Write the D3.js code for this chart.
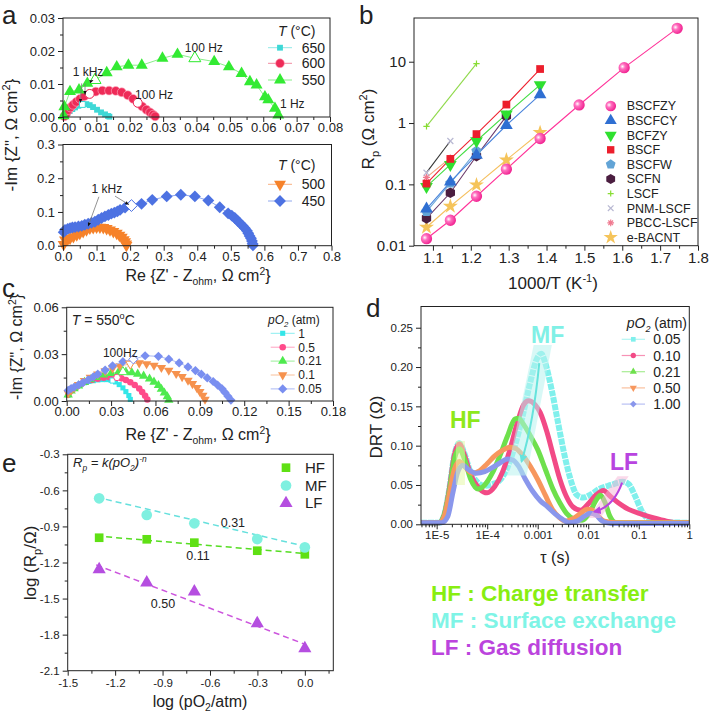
<!DOCTYPE html>
<html><head><meta charset="utf-8">
<script src="https://cdn.jsdelivr.net/npm/d3@7"></script>
<style>
body{margin:0;background:#fff;}
svg{display:block;font-family:"Liberation Sans",Arial,sans-serif;}
</style></head><body>
<svg id="chart" width="709" height="716"></svg>
<script>
// ---------------- DATA ----------------
// Panel a (top): Nyquist, T = 650/600/550 C  [Re, -Im]
const aTop650 = [[0.0004,0.0002],[0.0008,0.0008],[0.0014,0.0013],[0.0020,0.0018],[0.0028,0.0024],[0.0036,0.0029],[0.0046,0.0034],[0.0058,0.0038],[0.0070,0.0039],[0.0080,0.0036],[0.0090,0.0030],[0.0102,0.0022],[0.0114,0.0014],[0.0126,0.0008],[0.0135,0.0003],[0.0139,0.0001]];
const aTop600 = [[0.0004,0.0002],[0.0010,0.0011],[0.0016,0.0021],[0.0022,0.0029],[0.0030,0.0037],[0.0040,0.0046],[0.0051,0.0055],[0.0064,0.0063],[0.0080,0.0070],[0.0098,0.0077],[0.0118,0.0080],[0.0138,0.0080],[0.0158,0.0079],[0.0176,0.0075],[0.0194,0.0066],[0.0210,0.0055],[0.0224,0.0043],[0.0237,0.0032],[0.0250,0.0022],[0.0261,0.0014],[0.0270,0.0007],[0.0276,0.0002]];
const aTop550 = [[0.0002,0.0004],[0.0004,0.0031],[0.0021,0.0077],[0.0048,0.0082],[0.0073,0.0102],[0.0096,0.0112],[0.0131,0.0134],[0.0161,0.0152],[0.0196,0.0157],[0.0236,0.0157],[0.0298,0.0178],[0.0343,0.0190],[0.0395,0.0178],[0.0453,0.0168],[0.0497,0.0152],[0.0535,0.0132],[0.0560,0.0107],[0.0580,0.0097],[0.0605,0.0061],[0.0615,0.0052],[0.0635,0.0026],[0.0645,0.0006]];
const aTopOpen = [["650",0.0058,0.0038],["600",0.0080,0.0070],["600",0.0224,0.0043],["550",0.0096,0.0112],["550",0.0395,0.0178]];
// Panel a (bottom): T = 500/450 C
const aBot500 = [[0.002,0.004],[0.006,0.017],[0.014,0.019],[0.021,0.022],[0.031,0.027],[0.041,0.032],[0.050,0.037],[0.060,0.042],[0.070,0.047],[0.080,0.052],[0.090,0.054],[0.100,0.055],[0.110,0.055],[0.120,0.054],[0.130,0.051],[0.140,0.047],[0.150,0.042],[0.160,0.037],[0.168,0.031],[0.175,0.025],[0.181,0.018],[0.185,0.012],[0.188,0.005],[0.189,0.001]];
const aBot450 = [[0.002,0.040],[0.006,0.047],[0.014,0.050],[0.021,0.052],[0.028,0.054],[0.036,0.055],[0.046,0.057],[0.056,0.059],[0.065,0.062],[0.075,0.065],[0.085,0.068],[0.095,0.071],[0.105,0.077],[0.115,0.082],[0.125,0.087],[0.135,0.091],[0.144,0.095],[0.153,0.098],[0.162,0.102],[0.170,0.106],[0.185,0.113],[0.204,0.119],[0.234,0.124],[0.266,0.136],[0.309,0.146],[0.351,0.151],[0.393,0.146],[0.433,0.134],[0.467,0.114],[0.492,0.096],[0.503,0.089],[0.512,0.082],[0.520,0.074],[0.527,0.067],[0.535,0.059],[0.542,0.052],[0.548,0.044],[0.552,0.037],[0.556,0.029],[0.560,0.022],[0.563,0.014],[0.565,0.006],[0.566,0.001]];
const aBotOpen = [["450",0.204,0.119]];
// Panel b: Rp vs 1000/T
const bLabels = ["BSCFZY","BSCFCY","BCFZY","BSCF","BSCFW","SCFN","LSCF","PNM-LSCF","PBCC-LSCF","e-BACNT"];
const bInvT = [1.083,1.146,1.215,1.294,1.383,1.486,1.605,1.745];
const bBSCFZY = [0.013,0.026,0.064,0.177,0.56,1.97,8.0,35];
const bBSCFCY = [0.040,0.11,0.30,0.92,2.9];
const bBCFZY = [0.092,0.21,0.51,1.4,4.2];
const bBSCF = [0.103,0.26,0.66,2.0,7.6];
const bBSCFW = [0.036,0.105,0.35];
const bSCFN = [0.028,0.073,0.29,1.3];
const bLSCF = [[1.083,0.88],[1.215,9.3]];
const bPNM = [0.155,0.51];
const bPBCC = [0.13,0.27];
const bEBACNT = [0.020,0.044,0.098,0.25,0.70];
// Panel c: Nyquist at 550 C, different pO2
const cP1 = [[0.001,0.004],[0.002,0.006],[0.004,0.0075],[0.006,0.009],[0.009,0.0105],[0.012,0.0117],[0.015,0.0125],[0.018,0.013],[0.021,0.0135],[0.024,0.0137],[0.027,0.0137],[0.030,0.0133],[0.033,0.0122],[0.0355,0.0105],[0.038,0.0084],[0.040,0.006],[0.042,0.0035],[0.043,0.001]];
const cP05 = [[0.001,0.004],[0.002,0.006],[0.004,0.0077],[0.007,0.0095],[0.010,0.011],[0.013,0.0123],[0.017,0.0135],[0.021,0.0143],[0.025,0.0149],[0.029,0.0152],[0.033,0.0151],[0.037,0.0145],[0.040,0.0135],[0.043,0.012],[0.046,0.0102],[0.049,0.008],[0.051,0.0058],[0.053,0.0034],[0.0545,0.001]];
const cP021 = [[0.001,0.004],[0.003,0.0065],[0.005,0.008],[0.008,0.0098],[0.012,0.012],[0.016,0.0137],[0.020,0.0152],[0.025,0.0167],[0.030,0.0178],[0.035,0.0185],[0.040,0.0186],[0.044,0.0182],[0.048,0.0173],[0.052,0.016],[0.056,0.0142],[0.059,0.0122],[0.062,0.01],[0.064,0.0076],[0.066,0.0052],[0.068,0.0028],[0.069,0.0006]];
const cP01 = [[0.001,0.005],[0.003,0.007],[0.005,0.0085],[0.008,0.0105],[0.012,0.013],[0.016,0.015],[0.021,0.0172],[0.026,0.0192],[0.031,0.021],[0.036,0.0224],[0.043,0.0238],[0.049,0.0243],[0.054,0.0238],[0.059,0.0228],[0.064,0.0214],[0.069,0.0196],[0.074,0.0175],[0.078,0.0155],[0.082,0.0132],[0.085,0.011],[0.088,0.0085],[0.090,0.006],[0.092,0.0035],[0.0935,0.001]];
const cP005 = [[0.001,0.0068],[0.003,0.008],[0.005,0.0088],[0.008,0.0103],[0.011,0.0118],[0.0145,0.0135],[0.018,0.0155],[0.021,0.0172],[0.026,0.0198],[0.031,0.0225],[0.038,0.0252],[0.045,0.0267],[0.053,0.029],[0.062,0.0286],[0.069,0.0268],[0.076,0.0244],[0.082,0.0218],[0.087,0.0195],[0.091,0.0172],[0.095,0.0148],[0.099,0.0125],[0.102,0.0102],[0.105,0.0078],[0.107,0.0055],[0.109,0.003],[0.111,0.0006]];
const cOpen = [["1",0.031,0.0131],["0.5",0.034,0.0151],["0.21",0.038,0.0186],["0.1",0.043,0.0238],["0.05",0.045,0.0267]];
// Panel d: DRT  [log10(tau/s), DRT]
const d005 = [[-5.31,0.002],[-4.95,0.002],[-4.85,0.012],[-4.75,0.045],[-4.65,0.088],[-4.55,0.103],[-4.45,0.09],[-4.35,0.07],[-4.2,0.054],[-4.05,0.049],[-3.9,0.051],[-3.75,0.056],[-3.6,0.072],[-3.45,0.1],[-3.3,0.137],[-3.15,0.18],[-3.02,0.21],[-2.93,0.217],[-2.85,0.205],[-2.72,0.17],[-2.6,0.13],[-2.47,0.088],[-2.35,0.057],[-2.22,0.037],[-2.1,0.034],[-1.95,0.038],[-1.78,0.045],[-1.55,0.05],[-1.32,0.054],[-1.2,0.051],[-1.08,0.037],[-0.95,0.018],[-0.82,0.007],[-0.65,0.003],[0,0.002]];
const d010 = [[-5.31,0.002],[-4.95,0.002],[-4.85,0.012],[-4.75,0.045],[-4.65,0.088],[-4.55,0.102],[-4.45,0.088],[-4.32,0.062],[-4.15,0.045],[-4.0,0.04],[-3.85,0.048],[-3.7,0.066],[-3.55,0.095],[-3.4,0.13],[-3.28,0.152],[-3.18,0.157],[-3.05,0.152],[-2.95,0.142],[-2.82,0.118],[-2.69,0.087],[-2.56,0.057],[-2.43,0.035],[-2.3,0.022],[-2.15,0.018],[-2.0,0.026],[-1.85,0.037],[-1.7,0.043],[-1.57,0.036],[-1.4,0.027],[-1.2,0.019],[-0.95,0.013],[-0.7,0.008],[-0.45,0.004],[-0.2,0.002],[0,0.002]];
const d021 = [[-5.31,0.002],[-4.95,0.002],[-4.85,0.012],[-4.75,0.042],[-4.65,0.083],[-4.55,0.096],[-4.45,0.083],[-4.33,0.058],[-4.18,0.045],[-4.05,0.05],[-3.9,0.065],[-3.75,0.087],[-3.6,0.112],[-3.45,0.134],[-3.38,0.135],[-3.28,0.127],[-3.15,0.113],[-3.0,0.095],[-2.85,0.07],[-2.7,0.045],[-2.56,0.027],[-2.43,0.014],[-2.29,0.007],[-2.12,0.005],[-1.98,0.014],[-1.85,0.03],[-1.76,0.037],[-1.67,0.028],[-1.57,0.01],[-1.45,0.002],[0,0.002]];
const d050 = [[-5.31,0.002],[-4.95,0.002],[-4.85,0.01],[-4.75,0.038],[-4.65,0.07],[-4.55,0.08],[-4.45,0.074],[-4.3,0.065],[-4.15,0.068],[-4.0,0.077],[-3.85,0.087],[-3.7,0.094],[-3.55,0.098],[-3.45,0.097],[-3.3,0.088],[-3.15,0.074],[-3.0,0.057],[-2.85,0.037],[-2.72,0.02],[-2.58,0.009],[-2.45,0.004],[-2.3,0.007],[-2.15,0.014],[-2.02,0.019],[-1.92,0.018],[-1.8,0.01],[-1.68,0.004],[-1.4,0.002],[0,0.002]];
const d100 = [[-5.31,0.002],[-4.9,0.002],[-4.78,0.01],[-4.68,0.04],[-4.58,0.067],[-4.48,0.075],[-4.38,0.07],[-4.22,0.065],[-4.05,0.067],[-3.9,0.072],[-3.75,0.078],[-3.6,0.083],[-3.5,0.082],[-3.38,0.074],[-3.25,0.058],[-3.1,0.042],[-2.95,0.03],[-2.8,0.022],[-2.65,0.013],[-2.5,0.006],[-2.38,0.002],[-2.22,0.004],[-2.08,0.01],[-1.96,0.014],[-1.85,0.012],[-1.72,0.004],[-1.55,0.001],[0,0.001]];
const dLegend = ["0.05","0.10","0.21","0.50","1.00"];
const dXTicks = [1e-5,1e-4,1e-3,1e-2,1e-1,1];
const dXTickLabels = ["1E-5","1E-4","0.001","0.01","0.1","1"];
// Panel e: log Rp vs log pO2
const eLogPO2 = [-1.301,-1.0,-0.699,-0.301,0.0];
const eHF = [-0.994,-1.007,-1.035,-1.102,-1.132];
const eMF = [-0.666,-0.805,-0.874,-1.005,-1.074];
const eLF = [-1.257,-1.368,-1.443,-1.706,-1.914];
const eFitIntercept = [-1.125,-1.065,-1.88];
const eFitSlope = [-0.11,-0.31,-0.50];
const eFitLabel = ["0.11","0.31","0.50"];

// ---------------- HELPERS ----------------
const F = '"Liberation Sans", Arial, sans-serif';
const svg = d3.select("#chart");
svg.append("rect").attr("width",709).attr("height",716).attr("fill","#fff");
const defs = svg.append("defs");
defs.append("marker").attr("id","ah").attr("viewBox","0 0 10 10").attr("refX",9).attr("refY",5)
  .attr("markerWidth",5).attr("markerHeight",5).attr("orient","auto")
  .append("path").attr("d","M0,1L10,5L0,9z").attr("fill","#111");
defs.append("marker").attr("id","ahC").attr("viewBox","0 0 10 10").attr("refX",8).attr("refY",5)
  .attr("markerWidth",4).attr("markerHeight",4).attr("orient","auto")
  .append("path").attr("d","M0,0L10,5L0,10z").attr("fill","#66e3dc");
defs.append("marker").attr("id","ahP").attr("viewBox","0 0 10 10").attr("refX",8).attr("refY",5)
  .attr("markerWidth",4).attr("markerHeight",4).attr("orient","auto")
  .append("path").attr("d","M0,0L10,5L0,10z").attr("fill","#b844e0");
const grad = defs.append("radialGradient").attr("id","ball").attr("cx","35%").attr("cy","40%").attr("r","65%");
grad.append("stop").attr("offset","0%").attr("stop-color","#fff");
grad.append("stop").attr("offset","35%").attr("stop-color","#ff6fbf");
grad.append("stop").attr("offset","100%").attr("stop-color","#f0208f");

function rich(sel, parts, fs){
  let shift = 0;
  parts.forEach(p=>{
    const [s,k=""] = Array.isArray(p)?p:[p,""];
    const target = k.includes("sub") ? fs*0.28 : (k.includes("sup") ? -fs*0.4 : 0);
    const ts = sel.append("tspan").text(s);
    if (target-shift !== 0) ts.attr("dy", target-shift);
    shift = target;
    if (k.includes("sub")||k.includes("sup")) ts.attr("font-size", fs*0.65);
    if (k.includes("I")) ts.attr("font-style","italic");
  });
}
function txt(x,y,parts,fs,opt={}){
  const t = svg.append("text").attr("x",x).attr("y",y).attr("font-size",fs)
    .attr("fill",opt.fill||"#222").attr("font-family",F).style("white-space","pre");
  if (opt.anchor) t.attr("text-anchor",opt.anchor);
  if (opt.weight) t.attr("font-weight",opt.weight);
  if (opt.italic) t.attr("font-style","italic");
  if (opt.rotate) t.attr("transform",`rotate(-90,${x},${y})`);
  rich(t, typeof parts==="string"?[parts]:parts, fs);
  return t;
}
function styleAxis(s, fs){
  s.select(".domain").remove();
  s.selectAll("line").attr("stroke","#222");
  s.selectAll("text").attr("font-size",fs).attr("fill","#222").attr("font-family",F);
}
function drawAxes(x, y, o){
  const [xl,xr] = x.range(), [yb,yt] = y.range();
  const g = svg.append("g");
  if (o.xMinor) g.append("g").attr("transform",`translate(0,${yb})`)
    .call(d3.axisBottom(x).tickValues(o.xMinor).tickSize(3).tickFormat("")).call(s=>styleAxis(s,o.fs));
  g.append("g").attr("transform",`translate(0,${yb})`)
    .call(d3.axisBottom(x).tickValues(o.xTicks).tickSize(5).tickPadding(o.xPad??2).tickFormat(o.xFmt))
    .call(s=>styleAxis(s,o.fs));
  if (o.yMinor) g.append("g").attr("transform",`translate(${xl},0)`)
    .call(d3.axisLeft(y).tickValues(o.yMinor).tickSize(3).tickFormat("")).call(s=>styleAxis(s,o.fs));
  g.append("g").attr("transform",`translate(${xl},0)`)
    .call(d3.axisLeft(y).tickValues(o.yTicks).tickSize(5).tickPadding(o.yPad??3).tickFormat(o.yFmt))
    .call(s=>styleAxis(s,o.fs));
  g.append("rect").attr("x",xl).attr("y",yt).attr("width",xr-xl).attr("height",yb-yt)
    .attr("fill","none").attr("stroke","#222").attr("stroke-width",1);
}
// custom symbols
const symDiamond = {draw(c,s){const r=Math.sqrt(s/2);c.moveTo(0,-r);c.lineTo(r,0);c.lineTo(0,r);c.lineTo(-r,0);c.closePath();}};
const symDown = {draw(c,s){const a=Math.sqrt(s/(Math.sqrt(3)/4))/2;const hh=a*Math.sqrt(3);c.moveTo(-a,-hh/3);c.lineTo(a,-hh/3);c.lineTo(0,2*hh/3);c.closePath();}};
const symUp = {draw(c,s){const a=Math.sqrt(s/(Math.sqrt(3)/4))/2;const hh=a*Math.sqrt(3);c.moveTo(-a,hh/3);c.lineTo(a,hh/3);c.lineTo(0,-2*hh/3);c.closePath();}};
function polySym(n){return {draw(c,s){const r=Math.sqrt(s/(n/2*Math.sin(2*Math.PI/n)));for(let i=0;i<n;i++){const a=-Math.PI/2+2*Math.PI*i/n;const px=r*Math.cos(a),py=r*Math.sin(a);i?c.lineTo(px,py):c.moveTo(px,py);}c.closePath();}};}
const symPent = polySym(5), symHex = polySym(6);
const symPlus = {draw(c,s){const r=Math.sqrt(s)/2;c.moveTo(-r,0);c.lineTo(r,0);c.moveTo(0,-r);c.lineTo(0,r);}};
const symX = {draw(c,s){const r=Math.sqrt(s)/2.6;c.moveTo(-r,-r);c.lineTo(r,r);c.moveTo(-r,r);c.lineTo(r,-r);}};
const symAst = {draw(c,s){const r=Math.sqrt(s)/2;c.moveTo(-r,0);c.lineTo(r,0);c.moveTo(0,-r);c.lineTo(0,r);const q=r*0.7;c.moveTo(-q,-q);c.lineTo(q,q);c.moveTo(-q,q);c.lineTo(q,-q);}};
function sym(type,size){return d3.symbol().type(type).size(size)();}
function marker(px,py,type,size,fill,stroke,sw){
  return svg.append("path").attr("d",sym(type,size)).attr("transform",`translate(${px},${py})`)
    .attr("fill",fill).attr("stroke",stroke||"none").attr("stroke-width",sw||1);
}
function nyquist(x,y,s){
  svg.append("path").datum(s.data).attr("d",d3.line().x(d=>x(d[0])).y(d=>y(d[1])))
    .attr("fill","none").attr("stroke",s.line).attr("stroke-width",1);
  s.data.forEach(d=>marker(x(d[0]),y(d[1]),s.sym,s.size,s.color,s.edge||"none",0.6));
}
function legendRow(xc, yc, s, label, fs, tx){
  svg.append("line").attr("x1",xc-12).attr("x2",xc+12).attr("y1",yc).attr("y2",yc).attr("stroke",s.line).attr("stroke-width",1);
  marker(xc,yc,s.sym,s.size,s.color,s.edge||"none",0.6);
  txt(tx, yc+fs*0.36, label, fs);
}

// ---------------- PANEL a (top) ----------------
{
  const x = d3.scaleLinear([0,0.08],[63,330]);
  const y = d3.scaleLinear([0,0.03],[117,18]);
  const ser = {
    "650":{data:aTop650,sym:d3.symbolSquare,size:34,color:"#3ed8d6",line:"#8fe8e6"},
    "600":{data:aTop600,sym:d3.symbolCircle,size:62,color:"#ee2b58",line:"#f28aa0",edge:"#ffb0c4"},
    "550":{data:aTop550,sym:symUp,size:62,color:"#33ea33",line:"#88ee88"}
  };
  ["650","600","550"].forEach(k=>nyquist(x,y,ser[k]));
  aTopOpen.forEach(([k,a,b])=>marker(x(a),y(b),ser[k].sym,ser[k].size,"#fff",ser[k].color,1));
  drawAxes(x,y,{xTicks:[0,0.01,0.02,0.03,0.04,0.05,0.06,0.07,0.08],xMinor:[0.005,0.015,0.025,0.035,0.045,0.055,0.065,0.075],
    yTicks:[0,0.01,0.02,0.03],yMinor:[0.005,0.015,0.025],xFmt:d=>d.toFixed(2),yFmt:d=>d.toFixed(2),fs:13,xPad:1});
  // annotations
  txt(x(0.0029),y(0.0124),"1 kHz",12);
  txt(x(0.0365),y(0.0197),"100 Hz",12);
  txt(x(0.0216),y(0.0055),"100 Hz",12);
  txt(x(0.0650),y(0.0027),"1 Hz",12);
  [[0.0056,0.0102,0.0052,0.0044],[0.0066,0.0102,0.0066,0.0068],[0.0078,0.0106,0.0090,0.0111]].forEach(([a,b,c,d])=>
    svg.append("line").attr("x1",x(a)).attr("y1",y(b)).attr("x2",x(c)).attr("y2",y(d)).attr("stroke","#777").attr("stroke-width",0.8).attr("marker-end","url(#ah)"));
  txt(278,36,[["T","I"]," (°C)"],14);
  legendRow(280,47.7,ser["650"],"650",14,301.7);
  legendRow(280,63.3,ser["600"],"600",14,301.7);
  legendRow(280,80,ser["550"],"550",14,301.7);
}
// ---------------- PANEL a (bottom) ----------------
{
  const x = d3.scaleLinear([0,0.8],[63,331.5]);
  const y = d3.scaleLinear([0,0.3],[245.7,144.5]);
  const ser = {
    "500":{data:aBot500,sym:symDown,size:62,color:"#f6822a",line:"#f8b080"},
    "450":{data:aBot450,sym:symDiamond,size:70,color:"#4d72e2",line:"#90a8ee"}
  };
  ["500","450"].forEach(k=>nyquist(x,y,ser[k]));
  aBotOpen.forEach(([k,a,b])=>marker(x(a),y(b),ser[k].sym,ser[k].size,"#fff",ser[k].color,1));
  drawAxes(x,y,{xTicks:[0,0.1,0.2,0.3,0.4,0.5,0.6,0.7,0.8],xMinor:[0.05,0.15,0.25,0.35,0.45,0.55,0.65,0.75],
    yTicks:[0,0.1,0.2,0.3],yMinor:[0.05,0.15,0.25],xFmt:d=>d.toFixed(1),yFmt:d=>d.toFixed(1),fs:13,xPad:1});
  txt(x(0.085),y(0.157),"1 kHz",12);
  svg.append("line").attr("x1",x(0.107)).attr("y1",y(0.145)).attr("x2",x(0.075)).attr("y2",y(0.058)).attr("stroke","#777").attr("stroke-width",0.8).attr("marker-end","url(#ah)");
  svg.append("line").attr("x1",x(0.155)).attr("y1",y(0.147)).attr("x2",x(0.196)).attr("y2",y(0.122)).attr("stroke","#777").attr("stroke-width",0.8).attr("marker-end","url(#ah)");
  txt(278,170,[["T","I"]," (°C)"],14);
  legendRow(280,184.3,ser["500"],"500",14,301.7);
  legendRow(280,201,ser["450"],"450",14,301.7);
  txt(198,281,["Re {Z' - Z",["ohm","sub"],", Ω cm",["2","sup"],"}"],16,{anchor:"middle"});
  txt(17,135,["-Im {Z\", Ω cm",["2","sup"],"}"],17,{anchor:"middle",rotate:true});
  txt(2,24,"a",26);
}
// ---------------- PANEL b ----------------
{
  const x = d3.scaleLinear([1.05,1.8],[414,698]);
  const y = d3.scaleLog([0.01,51.6],[245.7,18]);
  const sty = [
    {sym:d3.symbolCircle,size:100,color:"url(#ball)",line:"#ff3399",vals:bBSCFZY},
    {sym:symUp,size:70,color:"#2f6fd2",line:"#4a84dc",vals:bBSCFCY},
    {sym:symDown,size:70,color:"#2fe02f",line:"#44dd44",vals:bBCFZY},
    {sym:d3.symbolSquare,size:60,color:"#ec1e2c",line:"#ee2230",vals:bBSCF},
    {sym:symPent,size:70,color:"#62a4d6",line:"#6aa6da",vals:bBSCFW},
    {sym:symHex,size:75,color:"#4b1e40",line:"#6b3a6b",vals:bSCFN},
    {sym:symPlus,size:40,color:"none",stroke:"#88dd33",line:"#8fd94a",pts:bLSCF},
    {sym:symX,size:60,color:"none",stroke:"#b8b8d2",line:"#333",vals:bPNM},
    {sym:symAst,size:50,color:"none",stroke:"#f07a90",line:"#f2a27a",vals:bPBCC},
    {sym:d3.symbolStar,size:70,color:"#f5c45a",line:"#f5c060",vals:bEBACNT}
  ];
  const ptsOf = s => s.pts ? s.pts : s.vals.map((v,i)=>[bInvT[i],v]);
  const line = d3.line().x(d=>x(d[0])).y(d=>y(d[1]));
  [9,8,7,6,5,4,3,2,1,0].forEach(i=>{
    const s = sty[i];
    svg.append("path").datum(ptsOf(s)).attr("d",line).attr("fill","none").attr("stroke",s.line).attr("stroke-width",1.1);
  });
  [9,8,7,6,5,4,2,1,3,0].forEach(i=>{
    const s = sty[i];
    ptsOf(s).forEach(d=>marker(x(d[0]),y(d[1]),s.sym,s.size,s.color,s.stroke||"none",s.stroke?1.2:0));
  });
  drawAxes(x,y,{xTicks:[1.1,1.2,1.3,1.4,1.5,1.6,1.7,1.8],xMinor:[1.15,1.25,1.35,1.45,1.55,1.65,1.75],
    yTicks:[0.01,0.1,1,10],xFmt:d=>d.toFixed(1),yFmt:d=>String(d),fs:15,xPad:2,yPad:3});
  bLabels.forEach((lab,i)=>{
    const s = sty[i], yy = 106 + i*14.6;
    marker(610.7,yy,s.sym,s.size*0.9,s.color,s.stroke||"none",s.stroke?1.2:0);
    txt(626.7,yy+4.4,lab,12.5);
  });
  txt(553,289,["1000/T (K",["-1","sup"],")"],17,{anchor:"middle"});
  txt(374,129,["R",["p","sub"]," (Ω cm",["2","sup"],")"],17,{anchor:"middle",rotate:true});
  txt(359,24,"b",26);
}
// ---------------- PANEL c ----------------
{
  const x = d3.scaleLinear([0,0.18],[66.7,333]);
  const y = d3.scaleLinear([0,0.06],[401,307.3]);
  const ser = {
    "1":{data:cP1,sym:d3.symbolSquare,size:26,color:"#33e6e8",line:"#8aeef0"},
    "0.5":{data:cP05,sym:d3.symbolCircle,size:34,color:"#ff4a8a",line:"#ffa0c0"},
    "0.21":{data:cP021,sym:symUp,size:38,color:"#4eea4e",line:"#99ee99"},
    "0.1":{data:cP01,sym:symDown,size:38,color:"#f6924e",line:"#f8c09a"},
    "0.05":{data:cP005,sym:symDiamond,size:42,color:"#7a8ff0",line:"#aab8f4"}
  };
  const keys = ["1","0.5","0.21","0.1","0.05"];
  keys.forEach(k=>nyquist(x,y,ser[k]));
  svg.append("path").datum(cOpen.map(d=>[d[1],d[2]])).attr("d",d3.line().x(d=>x(d[0])).y(d=>y(d[1])))
    .attr("fill","none").attr("stroke","#bbb").attr("stroke-width",0.6);
  cOpen.forEach(([k,a,b])=>marker(x(a),y(b),ser[k].sym,ser[k].size,"#fff",ser[k].color,1));
  drawAxes(x,y,{xTicks:[0,0.03,0.06,0.09,0.12,0.15,0.18],xMinor:[0.015,0.045,0.075,0.105,0.135,0.165],
    yTicks:[0,0.03,0.06],yMinor:[0.015,0.045],xFmt:d=>d.toFixed(2),yFmt:d=>d.toFixed(2),fs:13,xPad:1});
  txt(x(0.0245),y(0.0282),"100Hz",12);
  txt(71.7,325,[["T","I"]," = 550",["o","sup"],"C"],14);
  txt(268,324,[["pO","I"],["2","Isub"]," (atm)"],12);
  const rows=[333.3,347.2,361.1,375,388.9];
  keys.forEach((k,i)=>legendRow(282.7,rows[i],ser[k],k,12,298.3));
  txt(198,440,["Re {Z' - Z",["ohm","sub"],", Ω cm",["2","sup"],"}"],16,{anchor:"middle"});
  txt(22,347,["-Im {Z\", Ω cm",["2","sup"],"}"],16,{anchor:"middle",rotate:true});
  txt(2,297,"c",26);
}
// ---------------- PANEL d ----------------
{
  const x = d3.scaleLog([Math.pow(10,-5.31),1],[421,689.3]);
  const y = d3.scaleLinear([0,0.277],[524.3,306.5]);
  const cols = ["#80f0ec","#f24a86","#6ee04c","#f7975e","#8a97ec"];
  const sers = [d005,d010,d021,d050,d100];
  const line = d3.line().curve(d3.curveMonotoneX).x(d=>x(Math.pow(10,d[0]))).y(d=>y(d[1]));
  sers.forEach((s,i)=>{
    const p = svg.append("path").datum(s).attr("d",line).attr("fill","none").attr("stroke",cols[i])
      .attr("stroke-width",i===0?6:5).attr("stroke-linejoin","round");
    if (i===0) p.attr("stroke-dasharray","6,1");
  });
  const P = (lt,v)=>[x(Math.pow(10,lt)),y(v)];
  const poly = (pts,fill,op)=>svg.append("path").attr("d","M"+pts.map(p=>P(p[0],p[1]).join(",")).join("L")+"Z").attr("fill",fill).attr("opacity",op);
  poly([[-4.62,0.106],[-4.44,0.106],[-4.44,0.05],[-4.62,0.05]],"#e6f7a8",0.55);
  poly([[-3.08,0.228],[-2.72,0.228],[-3.22,0.062],[-3.62,0.062]],"#b8f3ee",0.55);
  poly([[-1.42,0.061],[-1.2,0.061],[-1.76,0.008],[-2.0,0.008]],"#f5b3d6",0.5);
  svg.append("path").attr("d","M"+P(-2.97,0.205).join(",")+"Q"+P(-3.08,0.13).join(",")+" "+P(-3.32,0.08).join(","))
    .attr("fill","none").attr("stroke","#66e3dc").attr("stroke-width",2).attr("marker-end","url(#ahC)");
  svg.append("path").attr("d","M"+P(-1.33,0.053).join(",")+"Q"+P(-1.5,0.022).join(",")+" "+P(-1.88,0.016).join(","))
    .attr("fill","none").attr("stroke","#b844e0").attr("stroke-width",2).attr("marker-end","url(#ahP)");
  const xMinor=[]; for(let k=-6;k<0;k++) for(let m=2;m<10;m++){const v=m*Math.pow(10,k); if(v>=Math.pow(10,-5.31)&&v<1) xMinor.push(v);}
  drawAxes(x,y,{xTicks:dXTicks,xMinor:xMinor,yTicks:[0,0.05,0.1,0.15,0.2,0.25],
    yMinor:[0.025,0.075,0.125,0.175,0.225],xFmt:(d,i)=>dXTickLabels[i],yFmt:d=>d.toFixed(2),fs:11.5,xPad:2});
  txt(450,428,"HF",23,{fill:"#8ee81c",weight:"bold"});
  txt(531,343,"MF",23,{fill:"#80f0e6",weight:"bold"});
  txt(610,470,"LF",23,{fill:"#b844e0",weight:"bold"});
  txt(626.7,328,[["pO","I"],["2","Isub"]," (atm)"],14);
  const rows=[339.3,355.5,371.7,387.9,404.1];
  const syms=[d3.symbolSquare,d3.symbolCircle,symUp,symDown,symDiamond];
  dLegend.forEach((lab,i)=>{
    svg.append("line").attr("x1",621.7).attr("x2",645).attr("y1",rows[i]).attr("y2",rows[i]).attr("stroke",cols[i]).attr("stroke-width",1.2).attr("opacity",0.6);
    marker(633.3,rows[i],syms[i],22,cols[i]);
    txt(653.3,rows[i]+5,lab,14);
  });
  txt(555,563,"τ (s)",16,{anchor:"middle"});
  txt(382,427,"DRT (Ω)",17,{anchor:"middle",rotate:true});
  txt(366,317,"d",26);
  txt(431,601,"HF : Charge transfer",22.5,{fill:"#88ee11",weight:"bold"});
  txt(431,628,"MF : Surface exchange",22.5,{fill:"#7ff4e6",weight:"bold"});
  txt(431,655,"LF : Gas diffusion",22.5,{fill:"#bb44dd",weight:"bold"});
}
// ---------------- PANEL e ----------------
{
  const x = d3.scaleLinear([-1.5,0.18],[67.7,333.3]);
  const y = d3.scaleLinear([-2.1,-0.3],[670.7,454.3]);
  const cols = ["#5fe014","#7ff0e0","#b54ee0"];
  const fitCols = ["#55dd22","#66e0dd","#cc55dd"];
  const syms = [d3.symbolSquare,d3.symbolCircle,symUp];
  const vals = [eHF,eMF,eLF];
  eFitIntercept.forEach((b,i)=>{
    const pts=[[-1.32, b+eFitSlope[i]*-1.32],[0, b]];
    svg.append("path").datum(pts).attr("d",d3.line().x(d=>x(d[0])).y(d=>y(d[1])))
      .attr("fill","none").attr("stroke",fitCols[i]).attr("stroke-width",1.5).attr("stroke-dasharray","6,4");
  });
  vals.forEach((v,i)=>v.forEach((yy,j)=>marker(x(eLogPO2[j]),y(yy),syms[i],i===1?90:75,cols[i])));
  drawAxes(x,y,{xTicks:[-1.5,-1.2,-0.9,-0.6,-0.3,0.0],xMinor:[-1.35,-1.05,-0.75,-0.45,-0.15,0.15],
    yTicks:[-2.1,-1.8,-1.5,-1.2,-0.9,-0.6,-0.3],yMinor:[-1.95,-1.65,-1.35,-1.05,-0.75,-0.45],
    xFmt:d=>d.toFixed(1),yFmt:d=>d.toFixed(1),fs:11.5,xPad:3});
  const lp = [[-0.676,-1.138],[-0.455,-0.87],[-0.897,-1.537]];
  eFitLabel.forEach((t,i)=>txt(x(lp[i][0]),y(lp[i][1])+4.5,t,12.5,{anchor:"middle"}));
  txt(73,467,[["R","I"],["p","Isub"],[" = k(pO","I"],["2","Isub"],[")","I"],["-n","Isup"]],13);
  ["HF","MF","LF"].forEach((t,i)=>{
    const yy=[467.7,485.5,503.3][i];
    marker(286,yy,syms[i],i===1?90:75,cols[i]);
    txt(305,yy+5,t,15);
  });
  txt(200,707,["log (pO",["2","sub"],"/atm)"],16,{anchor:"middle"});
  txt(36,563,["log (R",["p","sub"],"/Ω)"],17,{anchor:"middle",rotate:true});
  txt(2,472,"e",26);
}
</script>
</body></html>
